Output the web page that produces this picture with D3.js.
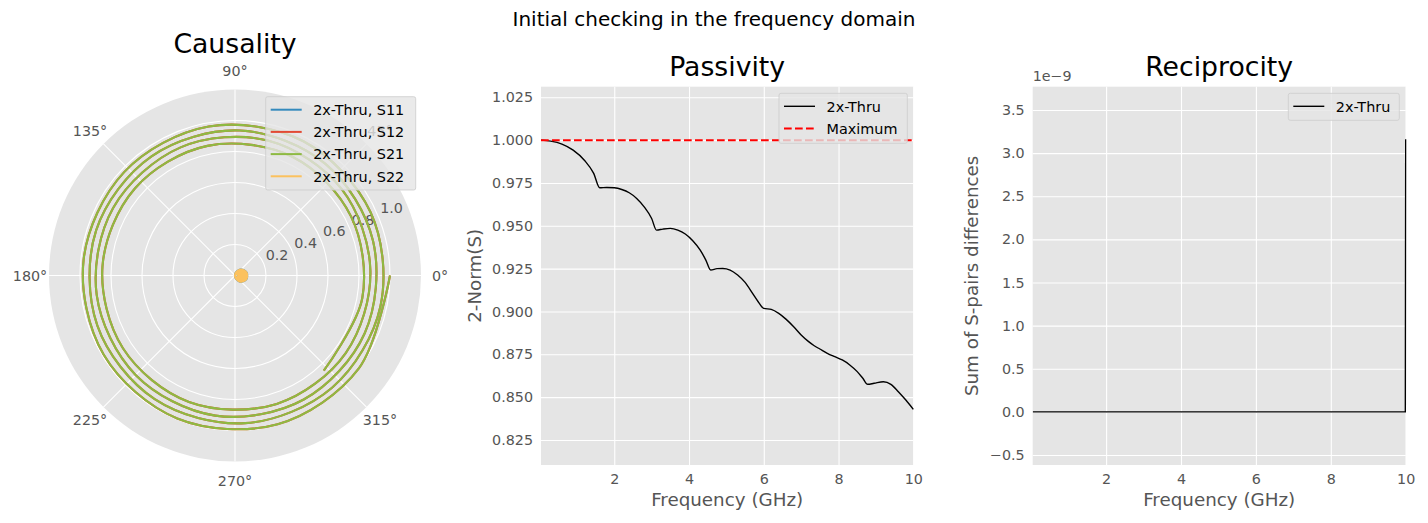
<!DOCTYPE html>
<html>
<head>
<meta charset="utf-8">
<script src="https://cdn.jsdelivr.net/npm/d3@7"></script>
<style>
  body { margin: 0; background: #fff; }
  text { font-family: "DejaVu Sans", sans-serif; }
</style>
</head>
<body>
<div id="chart"></div>
<script>
/**************************************************
 * Data
 **************************************************/

// Causality: S-parameters sampled every 0.25 GHz (0 .. 10 GHz)
const polarFreq = d3.range(0, 41).map(i => i * 0.25);
const s21Mag = [1.000, 0.999, 0.998, 0.995, 0.989, 0.982, 0.978, 0.976, 0.972, 0.965,
  0.959, 0.957, 0.955, 0.951, 0.945, 0.942, 0.939, 0.936, 0.927, 0.918,
  0.916, 0.915, 0.913, 0.907, 0.901, 0.899, 0.898, 0.896, 0.886, 0.874,
  0.872, 0.871, 0.868, 0.862, 0.857, 0.856, 0.855, 0.851, 0.840, 0.834, 0.840];
const s21Phase = [0, -37, -74, -112, -149, -186, -223, -260, -297, -335,
  -372, -409, -446, -483, -520, -558, -595, -632, -669, -706,
  -744, -781, -818, -855, -892, -929, -967, -1004, -1041, -1078,
  -1115, -1152, -1190, -1227, -1264, -1301, -1338, -1376, -1413, -1450, -1487];
const s12Mag = s21Mag;
const s12Phase = s21Phase;
const s11Mag = [0.000, 0.009, 0.017, 0.021, 0.019, 0.010, 0.003, 0.018, 0.028, 0.031,
  0.024, 0.010, 0.009, 0.028, 0.039, 0.039, 0.028, 0.007, 0.018, 0.039,
  0.050, 0.046, 0.029, 0.001, 0.028, 0.051, 0.060, 0.052, 0.027, 0.007,
  0.041, 0.064, 0.069, 0.054, 0.022, 0.018, 0.055, 0.077, 0.077, 0.054, 0.015];
const s11Phase = [90, 59, 28, -4, -35, -66, 83, 51, 20, -11,
  -43, -74, 75, 44, 13, -19, -50, -81, 68, 36,
  5, -26, -58, -89, 60, 29, -3, -34, -65, 84,
  53, 21, -10, -41, -73, 76, 45, 14, -18, -49, -80];
const s22Mag = s11Mag;
const s22Phase = s11Phase;
const polarSeries = ["2x-Thru, S11", "2x-Thru, S12", "2x-Thru, S21", "2x-Thru, S22"];
const polarColors = ["#348ABD", "#E24A33", "#8EBA42", "#FBC15E"];
const rTicks = [0.2, 0.4, 0.6, 0.8, 1.0];
const angleTicks = [0, 45, 90, 135, 180, 225, 270, 315];

// Passivity: 2-norm of S vs frequency (GHz)
const passFreq = [0.04, 0.3, 0.6, 0.9, 1.2, 1.45, 1.61, 1.8, 2.0, 2.2, 2.4, 2.6, 2.8, 3.0, 3.13,
  3.3, 3.5, 3.7, 3.9, 4.1, 4.3, 4.45, 4.58, 4.75, 4.9, 5.1, 5.3, 5.5, 5.7, 5.85, 6.0,
  6.2, 6.4, 6.6, 6.8, 7.0, 7.2, 7.35, 7.5, 7.7, 7.9, 8.1, 8.3, 8.5, 8.65, 8.78, 8.95,
  9.2, 9.4, 9.6, 9.8, 10.0];
const passNorm = [1.000, 0.9994, 0.9977, 0.9942, 0.9883, 0.9806, 0.9722, 0.9724, 0.9722, 0.9712,
  0.9693, 0.966, 0.9611, 0.9543, 0.9475, 0.9481, 0.9485, 0.9475, 0.9452, 0.9413,
  0.9358, 0.930, 0.9242, 0.925, 0.9251, 0.9242, 0.9213, 0.917, 0.9106, 0.9057,
  0.9018, 0.9012, 0.8989, 0.8954, 0.8911, 0.8863, 0.8824, 0.880, 0.8781, 0.8756,
  0.8736, 0.8717, 0.8688, 0.8649, 0.861, 0.8575, 0.8581, 0.859, 0.8575, 0.8532,
  0.8483, 0.8429];
const passMax = 1.0;
const passTicks = [0.825, 0.85, 0.875, 0.9, 0.925, 0.95, 0.975, 1.0, 1.025];

// Reciprocity: sum of S-pair differences
const recipFreq = [0.04, 2, 4, 6, 8, 9.99, 10];
const recipDiff = [0, 0, 0, 0, 0, 0, 3.16e-9];
const recipTicks = [-0.5, 0.0, 0.5, 1.0, 1.5, 2.0, 2.5, 3.0, 3.5];

const freqTicks = [2, 4, 6, 8, 10];

/**************************************************
 * Setup
 **************************************************/

const W = 1428, H = 523;
const BG = "#E5E5E5", TXT = "#555555";
const TICK_FS = "14.3px", LEG_FS = "14.4px", LAB_FS = "18.3px", TITLE_FS = "26.7px";
const svg = d3.select("#chart").append("svg")
  .attr("width", W).attr("height", H);
svg.append("rect").attr("width", W).attr("height", H).attr("fill", "#fff");

svg.append("text")
  .attr("x", 714).attr("y", 25.5)
  .attr("text-anchor", "middle")
  .attr("font-size", "20px")
  .text("Initial checking in the frequency domain");

function drawLegend(x, y, w, h, items) {
  const g = svg.append("g");
  g.append("rect")
    .attr("x", x).attr("y", y).attr("width", w).attr("height", h)
    .attr("rx", 2)
    .attr("fill", BG).attr("fill-opacity", 0.8)
    .attr("stroke", "#CCCCCC").attr("stroke-opacity", 0.8);
  items.forEach((it, i) => {
    const cy = y + 13 + i * 22.2;
    g.append("line")
      .attr("x1", x + 5).attr("x2", x + 36)
      .attr("y1", cy).attr("y2", cy)
      .attr("stroke", it.color)
      .attr("stroke-width", it.width || 2)
      .attr("stroke-dasharray", it.dash || null);
    g.append("text")
      .attr("x", x + 47.5).attr("y", cy + 5.2)
      .attr("font-size", LEG_FS)
      .text(it.label);
  });
}

/**************************************************
 * Causality (polar)
 **************************************************/

const cx = 235, cy = 275.5, R = 186;
const rScale = d3.scaleLinear().domain([0, 1.2]).range([0, R]);
const polar = svg.append("g").attr("transform", `translate(${cx},${cy})`);

polar.append("circle").attr("r", R).attr("fill", BG);
polar.selectAll(".rgrid").data(rTicks).enter()
  .append("circle")
  .attr("r", d => rScale(d))
  .attr("fill", "none").attr("stroke", "#fff").attr("stroke-width", 1.1);
polar.selectAll(".agrid").data(angleTicks).enter()
  .append("line")
  .attr("x2", d => R * Math.cos(d * Math.PI / 180))
  .attr("y2", d => -R * Math.sin(d * Math.PI / 180))
  .attr("stroke", "#fff").attr("stroke-width", 1.1);

polar.selectAll(".alabel").data(angleTicks).enter()
  .append("text")
  .attr("x", d => 205 * Math.cos(d * Math.PI / 180))
  .attr("y", d => -205 * Math.sin(d * Math.PI / 180))
  .attr("dy", "0.35em")
  .attr("text-anchor", "middle")
  .attr("font-size", TICK_FS).attr("fill", TXT)
  .text(d => d + "°");

const rlab = 22.5 * Math.PI / 180;
polar.selectAll(".rlabel").data(rTicks).enter()
  .append("text")
  .attr("x", d => rScale(d) * Math.cos(rlab) + 2)
  .attr("y", d => -rScale(d) * Math.sin(rlab) - 3.5)
  .attr("font-size", TICK_FS).attr("fill", TXT)
  .text(d => d.toFixed(1));

const radial = d3.lineRadial()
  .angle(d => (90 - d.deg) * Math.PI / 180)
  .radius(d => rScale(d.mag))
  .curve(d3.curveCatmullRom.alpha(0.5));

const polarData = [
  [s11Mag, s11Phase], [s12Mag, s12Phase], [s21Mag, s21Phase], [s22Mag, s22Phase]
];
polarData.forEach(([mag, ph], i) => {
  const pts = polarFreq.map((f, k) => ({ mag: mag[k], deg: ph[k] }));
  polar.append("path")
    .datum(pts)
    .attr("d", radial)
    .attr("fill", "none")
    .attr("stroke", polarColors[i])
    .attr("stroke-width", 2.1);
});

svg.append("text")
  .attr("x", 235).attr("y", 53)
  .attr("text-anchor", "middle")
  .attr("font-size", TITLE_FS)
  .text("Causality");

drawLegend(265.7, 96.7, 150, 93.3,
  polarSeries.map((s, i) => ({ label: s, color: polarColors[i] })));

/**************************************************
 * Cartesian panels
 **************************************************/

function panel(opts) {
  const { left, right, top, bottom, xDomain, yDomain, yTicks, yFmt } = opts;
  const x = d3.scaleLinear().domain(xDomain).range([left, right]);
  const y = d3.scaleLinear().domain(yDomain).range([bottom, top]);
  const g = svg.append("g");
  g.append("rect")
    .attr("x", left).attr("y", top)
    .attr("width", right - left).attr("height", bottom - top)
    .attr("fill", BG);

  // white grid
  g.append("g")
    .attr("transform", `translate(0,${bottom})`)
    .call(d3.axisBottom(x).tickValues(freqTicks).tickSize(-(bottom - top)).tickFormat(""))
    .call(a => a.select(".domain").remove())
    .call(a => a.selectAll("line").attr("stroke", "#fff").attr("stroke-width", 1.1));
  g.append("g")
    .attr("transform", `translate(${left},0)`)
    .call(d3.axisLeft(y).tickValues(yTicks).tickSize(-(right - left)).tickFormat(""))
    .call(a => a.select(".domain").remove())
    .call(a => a.selectAll("line").attr("stroke", "#fff").attr("stroke-width", 1.1));

  // tick labels
  g.append("g")
    .attr("transform", `translate(0,${bottom})`)
    .call(d3.axisBottom(x).tickValues(freqTicks).tickSize(0).tickPadding(8.5).tickFormat(d3.format("d")))
    .call(a => a.select(".domain").remove())
    .call(a => a.selectAll("text").attr("font-size", TICK_FS).attr("fill", TXT)
      .attr("font-family", "DejaVu Sans"));
  g.append("g")
    .attr("transform", `translate(${left},0)`)
    .call(d3.axisLeft(y).tickValues(yTicks).tickSize(0).tickPadding(8).tickFormat(yFmt))
    .call(a => a.select(".domain").remove())
    .call(a => a.selectAll("text").attr("font-size", TICK_FS).attr("fill", TXT)
      .attr("font-family", "DejaVu Sans"));

  const clipId = "clip" + Math.round(left);
  svg.append("clipPath").attr("id", clipId)
    .append("rect")
    .attr("x", left).attr("y", top)
    .attr("width", right - left + 1).attr("height", bottom - top);

  svg.append("text")
    .attr("x", (left + right) / 2).attr("y", 75.5)
    .attr("text-anchor", "middle")
    .attr("font-size", TITLE_FS)
    .text(opts.title);
  svg.append("text")
    .attr("x", (left + right) / 2).attr("y", 506)
    .attr("text-anchor", "middle")
    .attr("font-size", LAB_FS).attr("fill", TXT)
    .text("Frequency (GHz)");
  svg.append("text")
    .attr("transform", `translate(${opts.ylabX},${(top + bottom) / 2}) rotate(-90)`)
    .attr("text-anchor", "middle")
    .attr("dy", "0.35em")
    .attr("font-size", LAB_FS).attr("fill", TXT)
    .text(opts.ylabel);
  return { x, y, clip: `url(#${clipId})` };
}

// Passivity
const pp = panel({
  left: 541, right: 913.3, top: 86.7, bottom: 465,
  xDomain: [0.04, 10], yDomain: [0.8104, 1.0312],
  yTicks: passTicks, yFmt: d3.format(".3f"),
  title: "Passivity", ylabel: "2-Norm(S)", ylabX: 475
});
svg.append("path")
  .datum(passFreq.map((f, i) => [f, passNorm[i]]))
  .attr("clip-path", pp.clip)
  .attr("d", d3.line().x(d => pp.x(d[0])).y(d => pp.y(d[1])).curve(d3.curveMonotoneX))
  .attr("fill", "none").attr("stroke", "#000").attr("stroke-width", 1.4);
svg.append("line")
  .attr("x1", pp.x(0.04)).attr("x2", pp.x(10))
  .attr("y1", pp.y(passMax)).attr("y2", pp.y(passMax))
  .attr("stroke", "red").attr("stroke-width", 2)
  .attr("stroke-dasharray", "7.7,3.3");
drawLegend(779, 93.3, 128.3, 50, [
  { label: "2x-Thru", color: "#000", width: 1.4 },
  { label: "Maximum", color: "red", dash: "7.7,3.3" }
]);

// Reciprocity
const rp = panel({
  left: 1032.7, right: 1405.7, top: 86.7, bottom: 465,
  xDomain: [0.04, 10], yDomain: [-0.616e-9, 3.77e-9],
  yTicks: recipTicks.map(v => v * 1e-9), yFmt: d => d3.format(".1f")(d / 1e-9),
  title: "Reciprocity", ylabel: "Sum of S-pairs differences", ylabX: 971.7
});
svg.append("path")
  .datum(recipFreq.map((f, i) => [f, recipDiff[i]]))
  .attr("clip-path", rp.clip)
  .attr("d", d3.line().x(d => rp.x(d[0])).y(d => rp.y(d[1])))
  .attr("fill", "none").attr("stroke", "#000").attr("stroke-width", 1.4);
svg.append("text")
  .attr("x", 1032.7).attr("y", 81)
  .attr("font-size", TICK_FS).attr("fill", TXT)
  .text("1e\u22129");
drawLegend(1288.3, 93.3, 111, 27, [
  { label: "2x-Thru", color: "#000", width: 1.4 }
]);
</script>
</body>
</html>
